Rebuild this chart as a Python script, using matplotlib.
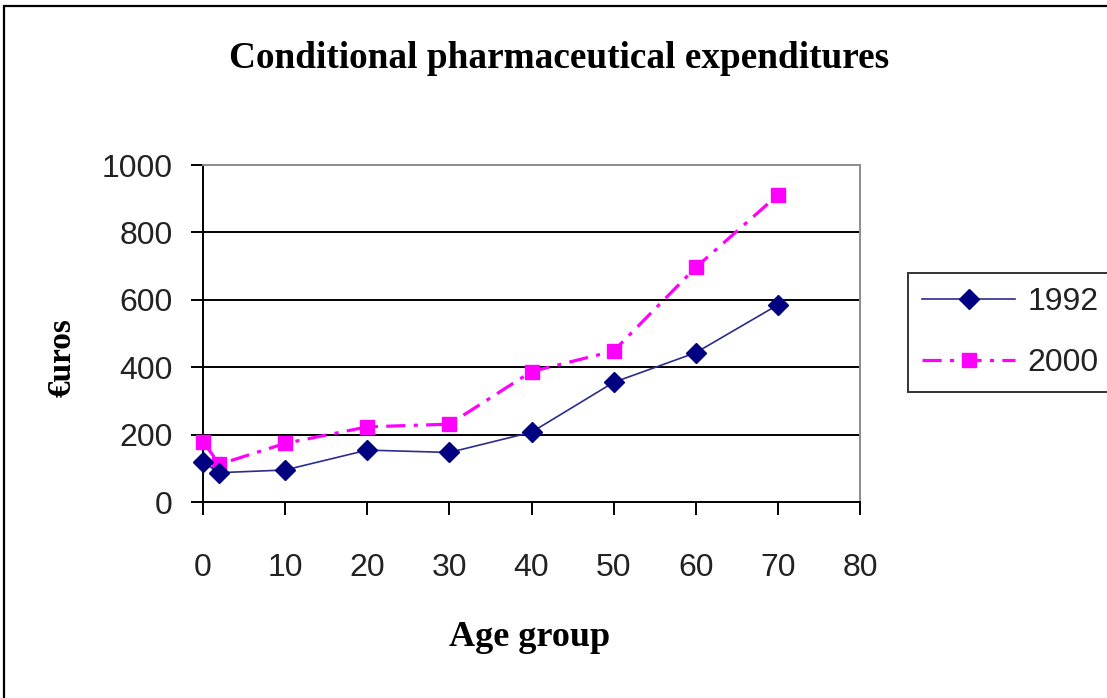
import numpy as np
import matplotlib
matplotlib.use("Agg")
import matplotlib.pyplot as plt
from matplotlib.patches import Rectangle

# data
age_1992 = [0, 2, 10, 20, 30, 40, 50, 60, 70]
euros_1992 = [118, 87, 95, 154, 147, 207, 355, 443, 585]
age_2000 = [0, 2, 10, 20, 30, 40, 50, 60, 70]
euros_2000 = [179, 112, 174, 223, 231, 387, 448, 696, 911]

x_ticks = [0, 10, 20, 30, 40, 50, 60, 70, 80]
y_ticks = [0, 200, 400, 600, 800, 1000]

tick_font = "Liberation Sans"
label_font = "Liberation Serif"

fig = plt.figure(figsize=(11.07, 6.98), dpi=100)
ax = fig.add_axes([203 / 1107, 1 - 502 / 698, (860 - 203) / 1107, (502 - 165) / 698])

# outer frame of the chart
fig.patches.append(Rectangle((4 / 1107, -0.05), 1.2, 1.05 - 6 / 698, transform=fig.transFigure,
                             fill=False, edgecolor="black", linewidth=1.6))

ax.plot(age_1992, euros_1992, color="#2b2b8f", linewidth=1.2, marker="D", markersize=10,
        markerfacecolor="#000080", markeredgecolor="#000080", label="1992", zorder=4, clip_on=False)
ax.plot(age_2000, euros_2000, color="#ff00ff", linewidth=2.3, linestyle=(0, (6, 2.6, 1.3, 2.6)),
        marker="s", markersize=10, markerfacecolor="#ff00ff", markeredgecolor="#ff00ff",
        label="2000", zorder=3, clip_on=False)

ax.set_xlim(0, 80)
ax.set_ylim(0, 1000)
ax.set_xticks(x_ticks)
ax.set_yticks(y_ticks)

# horizontal gridlines
for y in y_ticks[1:-1]:
    ax.axhline(y, color="black", linewidth=1.4, zorder=1)

for side in ["left", "bottom"]:
    ax.spines[side].set_color("black")
    ax.spines[side].set_linewidth(1.4)
for side in ["top", "right"]:
    ax.spines[side].set_color("#8c8c8c")
    ax.spines[side].set_linewidth(1.4)

ax.tick_params(axis="y", direction="out", length=9, width=1.4, pad=13, labelsize=23, labelcolor="#222222")
ax.tick_params(axis="x", direction="out", length=9, width=1.4, pad=28, labelsize=23, labelcolor="#222222")
for lab in ax.get_xticklabels() + ax.get_yticklabels():
    lab.set_fontfamily(tick_font)

fig.text(559 / 1107, 1 - 58 / 698, "Conditional pharmaceutical expenditures", ha="center", va="center",
         fontsize=26.8, fontweight="bold", fontfamily=label_font)
fig.text(530 / 1107, 1 - 637 / 698, "Age group", ha="center", va="center",
         fontsize=26, fontweight="bold", fontfamily=label_font)
fig.text(62 / 1107, 1 - 358 / 698, "€uros", ha="center", va="center", rotation=90,
         fontsize=24, fontweight="bold", fontfamily=label_font)

leg = ax.legend(loc="upper left", bbox_to_anchor=(908 / 1107, 1 - 273 / 698), bbox_transform=fig.transFigure,
                borderaxespad=0, fancybox=False, shadow=False, frameon=True, handlelength=2.9,
                handletextpad=0.4, labelspacing=0.95, borderpad=0.45,
                prop={"family": tick_font, "size": 23})
leg.get_frame().set_edgecolor("black")
leg.get_frame().set_linewidth(1.4)
for t in leg.get_texts():
    t.set_color("#222222")

plt.savefig("out.png", dpi=100)
